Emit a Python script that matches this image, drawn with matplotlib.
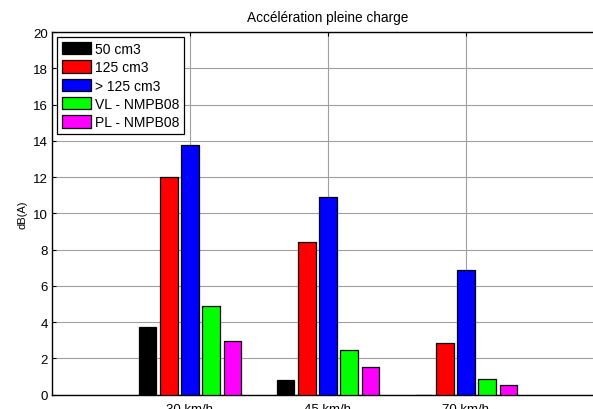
import matplotlib
matplotlib.use("Agg")
import matplotlib.pyplot as plt
import numpy as np

plt.rcParams['font.family'] = ['Liberation Sans', 'DejaVu Sans']

categories = ["30 km/h", "45 km/h", "70 km/h"]
series_names = ["50 cm3", "125 cm3", "> 125 cm3", "VL - NMPB08", "PL - NMPB08"]
colors = ["#000000", "#ff0000", "#0000ff", "#00ff00", "#ff00ff"]
v_50 = [3.75, 0.8, 0.0]
v_125 = [12.0, 8.4, 2.87]
v_gt125 = [13.75, 10.9, 6.88]
v_vl = [4.9, 2.45, 0.87]
v_pl = [2.94, 1.51, 0.55]
values = [v_50, v_125, v_gt125, v_vl, v_pl]

fig = plt.figure(figsize=(5.93, 4.10), dpi=100)
ax = fig.add_axes([52/593, 14.3/410, 552/593, 362.7/410])

x = np.arange(1, len(categories) + 1)
step = 0.154
width = 0.127
for i, (vals, c, name) in enumerate(zip(values, colors, series_names)):
    ax.bar(x + (i - 2) * step, vals, width=width, color=c, edgecolor='black',
           linewidth=0.9, label=name, zorder=3)

ax.set_xlim(0, 4)
ax.set_ylim(0, 20)
ax.set_yticks(np.arange(0, 21, 2))
ax.set_xticks(x)
ax.set_xticklabels(categories)
ax.grid(True, color='#a0a0a0', linewidth=0.8, zorder=0)
ax.set_axisbelow(True)
ax.tick_params(direction='in', length=3, labelsize=9.5, top=True, right=False, pad=3)
ax.tick_params(axis='x', pad=6)
for s in ['left', 'bottom', 'top']:
    ax.spines[s].set_linewidth(1.0)
ax.set_ylabel("dB(A)", fontsize=8, labelpad=4)
ax.set_title("Accélération pleine charge", fontsize=9.8, pad=8)

leg = ax.legend(loc='upper left', bbox_to_anchor=(0.009, 0.986), fontsize=10,
                frameon=True, fancybox=False, edgecolor='black', framealpha=1,
                handlelength=2.1, handleheight=1.0, handletextpad=0.3,
                labelspacing=0.31, borderpad=0.35, borderaxespad=0.0)
leg.get_frame().set_linewidth(0.9)

fig.savefig("out.png", dpi=100)
